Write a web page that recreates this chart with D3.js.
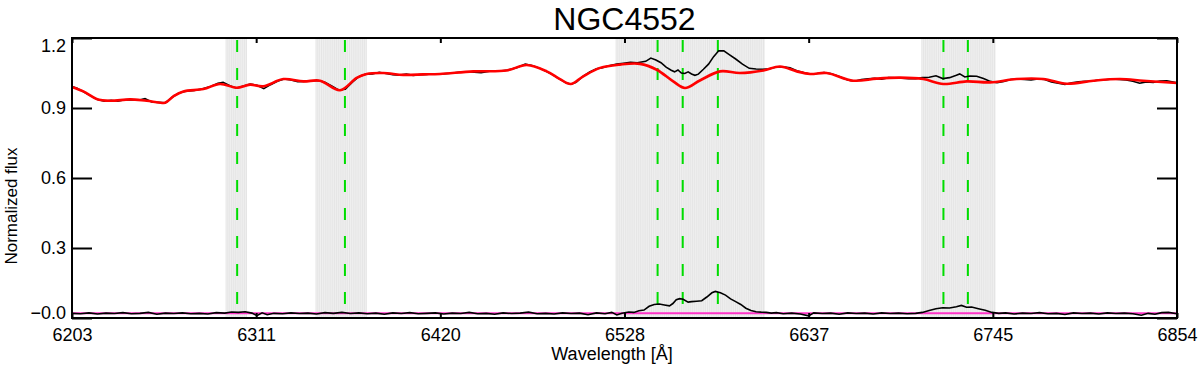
<!DOCTYPE html>
<html>
<head>
<meta charset="utf-8">
<script src="https://cdn.jsdelivr.net/npm/d3@7"></script>
<style>
  body { margin: 0; background: #fff; }
  text { font-family: "Liberation Sans", Arial, sans-serif; }
</style>
</head>
<body>
<div id="chart"></div>
<script>
// wavelength ticks (Angstrom) and their labels
var xTicks = [6203, 6311.5, 6420, 6528.5, 6637, 6745.5, 6854];
var xTickLabels = ["6203", "6311", "6420", "6528", "6637", "6745", "6854"];
var yTicks = [0, 0.3, 0.6, 0.9, 1.2];
var yTickLabels = ["\u22120.0", "0.3", "0.6", "0.9", "1.2"];

// masked regions and emission line positions
var maskRegions = [[6293.7, 6306.1], [6346.7, 6376.6], [6523.5, 6611.3], [6703.6, 6747.2]];
var lineWaves = [6300.3, 6363.8, 6548.0, 6562.8, 6583.5, 6716.4, 6730.8];

// best-fit model (red)
var modelWave = [6203, 6209.7, 6217.5, 6225.4, 6237.2, 6247, 6257.8, 6262.7, 6268.6, 6280.4,
  6290.2, 6300, 6307.9, 6315.7, 6327.5, 6339.3, 6349.1, 6360.9, 6370.7, 6376.6,
  6386.4, 6398.2, 6410, 6419.8, 6439.4, 6459.1, 6470.9, 6482.7, 6490.5, 6496.8,
  6504.2, 6514.1, 6525.8, 6537.6, 6547.5, 6557.2, 6564.1, 6572.9, 6584.8, 6596.5,
  6610.3, 6620.1, 6630, 6637.8, 6647.6, 6663.3, 6677.1, 6690.8, 6704.5, 6716.3,
  6730.1, 6743.8, 6759.5, 6775.2, 6789, 6804.7, 6820.4, 6834.1, 6854];
var modelFlux = [0.990, 0.971, 0.939, 0.931, 0.937, 0.931, 0.923, 0.950, 0.971, 0.981,
  1.003, 0.987, 1.000, 0.993, 1.024, 1.014, 1.017, 0.976, 1.029, 1.046,
  1.050, 1.042, 1.044, 1.046, 1.057, 1.061, 1.084, 1.057, 1.024, 1.003,
  1.036, 1.072, 1.086, 1.089, 1.064, 1.014, 0.986, 1.018, 1.057, 1.050,
  1.061, 1.078, 1.057, 1.046, 1.050, 1.017, 1.026, 1.030, 1.024, 1.003,
  1.014, 1.010, 1.024, 1.024, 1.004, 1.017, 1.024, 1.017, 1.007];

// observed spectrum (black)
var obsWave = [6203, 6206, 6210, 6214, 6218, 6222, 6226, 6230, 6234, 6238, 6242, 6246, 6250, 6254, 6258,
  6262, 6266, 6270, 6275, 6280, 6285, 6289, 6292, 6296, 6300, 6304, 6308, 6312, 6316, 6320,
  6324, 6328, 6332, 6336, 6340, 6344, 6348, 6352, 6356, 6360, 6364, 6368, 6372, 6376, 6380,
  6384, 6388, 6392, 6396, 6400, 6404, 6408, 6412, 6416, 6420, 6426, 6432, 6438, 6444, 6450,
  6455, 6460, 6465, 6470, 6474, 6478, 6482, 6486, 6490, 6494, 6497, 6500, 6504, 6508, 6512,
  6515, 6520, 6524, 6528, 6532, 6536, 6541, 6544, 6547, 6550, 6553, 6556, 6558, 6560, 6562,
  6564, 6566, 6568, 6570, 6572, 6575, 6578, 6581, 6584, 6587, 6590, 6594, 6598, 6602, 6606,
  6610, 6614, 6618, 6622, 6626, 6630, 6634, 6638, 6642, 6646, 6650, 6655, 6660, 6664, 6668,
  6672, 6676, 6680, 6684, 6688, 6692, 6696, 6700, 6704, 6708, 6712, 6716, 6720, 6724, 6726,
  6729, 6732, 6736, 6740, 6744, 6748, 6752, 6756, 6760, 6764, 6768, 6772, 6776, 6780, 6784,
  6788, 6792, 6796, 6800, 6804, 6808, 6812, 6816, 6820, 6824, 6828, 6832, 6836, 6840, 6844,
  6848, 6854];
var obsFlux = [0.992, 0.985, 0.968, 0.952, 0.936, 0.929, 0.933, 0.929, 0.935, 0.936, 0.933, 0.940, 0.926, 0.924, 0.922,
  0.946, 0.964, 0.972, 0.975, 0.982, 0.993, 1.006, 1.010, 0.995, 0.985, 0.994, 1.003, 0.997, 0.983, 1.000,
  1.015, 1.024, 1.020, 1.013, 1.014, 1.017, 1.018, 1.010, 0.995, 0.977, 0.980, 1.010, 1.034, 1.045, 1.046,
  1.053, 1.048, 1.043, 1.041, 1.045, 1.040, 1.043, 1.044, 1.047, 1.045, 1.049, 1.054, 1.055, 1.051, 1.059,
  1.058, 1.063, 1.073, 1.088, 1.082, 1.072, 1.058, 1.043, 1.025, 1.008, 1.002, 1.010, 1.035, 1.055, 1.068,
  1.072, 1.082, 1.088, 1.092, 1.096, 1.094, 1.100, 1.114, 1.106, 1.094, 1.075, 1.062, 1.055, 1.063, 1.050,
  1.048, 1.055, 1.046, 1.040, 1.045, 1.066, 1.088, 1.120, 1.145, 1.145, 1.130, 1.110, 1.088, 1.070, 1.067,
  1.066, 1.068, 1.076, 1.077, 1.072, 1.060, 1.052, 1.045, 1.048, 1.052, 1.048, 1.035, 1.020, 1.015, 1.022,
  1.025, 1.027, 1.023, 1.030, 1.029, 1.028, 1.026, 1.026, 1.030, 1.032, 1.038, 1.026, 1.030, 1.040, 1.046,
  1.033, 1.037, 1.036, 1.026, 1.014, 1.008, 1.014, 1.022, 1.024, 1.022, 1.020, 1.024, 1.022, 1.012, 1.006,
  1.001, 1.008, 1.012, 1.014, 1.016, 1.020, 1.021, 1.024, 1.022, 1.020, 1.015, 1.006, 1.012, 1.010, 1.016,
  1.017, 1.008];

// residual / emission spectrum (black, bottom) and its zero level (magenta)
var emisWave = [6203, 6208, 6213, 6218, 6223, 6228, 6233, 6238, 6243, 6248, 6253, 6258, 6263, 6268, 6273,
  6278, 6283, 6288, 6293, 6297, 6301, 6305, 6309, 6312, 6315, 6318, 6322, 6327, 6332, 6337,
  6342, 6347, 6352, 6357, 6362, 6367, 6372, 6377, 6382, 6387, 6392, 6397, 6402, 6407, 6412,
  6417, 6422, 6427, 6432, 6437, 6442, 6447, 6452, 6457, 6462, 6467, 6472, 6477, 6482, 6487,
  6492, 6497, 6502, 6507, 6512, 6517, 6521, 6524, 6527, 6531, 6534, 6537, 6540, 6543, 6546,
  6549, 6552, 6555, 6557, 6559, 6561, 6563, 6566, 6568, 6571, 6574, 6577, 6580, 6582, 6585,
  6588, 6591, 6594, 6597, 6600, 6603, 6606, 6609, 6612, 6615, 6618, 6622, 6627, 6632, 6637,
  6640, 6645, 6650, 6655, 6660, 6665, 6670, 6675, 6680, 6685, 6690, 6695, 6700, 6704, 6708,
  6712, 6716, 6720, 6724, 6727, 6730, 6733, 6737, 6741, 6745, 6749, 6753, 6758, 6763, 6768,
  6773, 6778, 6783, 6788, 6793, 6798, 6803, 6808, 6813, 6818, 6823, 6828, 6833, 6837, 6841,
  6845, 6849, 6854];
var emisFlux = [0.020, 0.018, 0.022, 0.017, 0.021, 0.019, 0.023, 0.018, 0.020, 0.024, 0.016, 0.021, 0.019, 0.022, 0.018,
  0.020, 0.017, 0.023, 0.021, 0.026, 0.024, 0.027, 0.021, 0.010, 0.022, 0.014, 0.020, 0.018, 0.022, 0.019,
  0.021, 0.017, 0.023, 0.020, 0.024, 0.019, 0.022, 0.018, 0.021, 0.016, 0.022, 0.019, 0.023, 0.018, 0.020,
  0.022, 0.017, 0.021, 0.019, 0.024, 0.018, 0.020, 0.016, 0.022, 0.019, 0.021, 0.025, 0.018, 0.020, 0.017,
  0.022, 0.019, 0.021, 0.014, 0.022, 0.018, 0.024, 0.013, 0.020, 0.026, 0.024, 0.031, 0.034, 0.050, 0.058,
  0.060, 0.056, 0.052, 0.062, 0.078, 0.083, 0.080, 0.068, 0.070, 0.072, 0.074, 0.090, 0.108, 0.114, 0.108,
  0.098, 0.082, 0.070, 0.058, 0.042, 0.032, 0.027, 0.025, 0.024, 0.021, 0.023, 0.018, 0.021, 0.017, 0.009,
  0.022, 0.019, 0.021, 0.016, 0.022, 0.019, 0.021, 0.017, 0.022, 0.019, 0.021, 0.018, 0.020, 0.024, 0.032,
  0.040, 0.044, 0.043, 0.048, 0.054, 0.046, 0.047, 0.040, 0.033, 0.024, 0.020, 0.022, 0.017, 0.021, 0.019,
  0.023, 0.018, 0.020, 0.015, 0.022, 0.019, 0.021, 0.017, 0.022, 0.019, 0.021, 0.018, 0.012, 0.020, 0.016,
  0.023, 0.024, 0.018];
var zeroLevel = 0.02;

var width = 1200, height = 367;
var margin = {top: 38, right: 23, bottom: 49, left: 72};

var svg = d3.select("#chart").append("svg")
  .attr("width", width)
  .attr("height", height);

var x = d3.scaleLinear().domain([6203, 6854]).range([margin.left, width - margin.right]);
var y = d3.scaleLinear().domain([0, 1.2]).range([height - margin.bottom, margin.top]);

// masked regions: light gray band made of thin vertical lines
var masks = svg.append("g");
maskRegions.forEach(function(r) {
  masks.append("rect")
    .attr("x", x(r[0]))
    .attr("y", y(1.2))
    .attr("width", x(r[1]) - x(r[0]))
    .attr("height", y(0) - y(1.2))
    .style("fill", "#f1f1f1");
  masks.selectAll(null)
    .data(d3.range(r[0], r[1], 1.1))
    .enter().append("line")
      .attr("x1", function(d) { return x(d); })
      .attr("x2", function(d) { return x(d); })
      .attr("y1", y(1.2))
      .attr("y2", y(0))
      .style("stroke", "#dedede")
      .style("stroke-width", 0.6);
});

// emission line markers
svg.append("g").selectAll("line")
  .data(lineWaves)
  .enter().append("line")
    .attr("x1", function(d) { return x(d); })
    .attr("x2", function(d) { return x(d); })
    .attr("y1", y(1.2))
    .attr("y2", y(0))
    .style("stroke", "#00dd00")
    .style("stroke-width", 2)
    .style("stroke-dasharray", "12,16")
    .style("stroke-dashoffset", -2);

function pairs(w, f) {
  return w.map(function(d, i) { return [d, f[i]]; });
}

// zero level
svg.append("line")
  .attr("x1", x(6203)).attr("x2", x(6854))
  .attr("y1", y(zeroLevel)).attr("y2", y(zeroLevel))
  .style("stroke", "#ff33c8")
  .style("stroke-width", 2);

var lineLin = d3.line()
  .x(function(d) { return x(d[0]); })
  .y(function(d) { return y(d[1]); });

var lineSmooth = d3.line()
  .curve(d3.curveCatmullRom)
  .x(function(d) { return x(d[0]); })
  .y(function(d) { return y(d[1]); });

svg.append("path")
  .attr("d", lineLin(pairs(emisWave, emisFlux)))
  .style("fill", "none")
  .style("stroke", "#000")
  .style("stroke-width", 1.6);

svg.append("path")
  .attr("d", lineLin(pairs(obsWave, obsFlux)))
  .style("fill", "none")
  .style("stroke", "#000")
  .style("stroke-width", 1.6);

svg.append("path")
  .attr("d", lineSmooth(pairs(modelWave, modelFlux)))
  .style("fill", "none")
  .style("stroke", "#ff0000")
  .style("stroke-width", 2.6);

// axes
var xBottom = d3.axisBottom(x)
  .tickValues(xTicks)
  .tickFormat(function(d, i) { return xTickLabels[i]; })
  .tickSizeInner(-5).tickSizeOuter(0).tickPadding(10);

var gx = svg.append("g")
  .attr("transform", "translate(0," + y(0) + ")")
  .call(xBottom);

svg.append("g")
  .attr("transform", "translate(0," + y(1.2) + ")")
  .call(d3.axisTop(x).tickValues(xTicks).tickFormat("").tickSizeInner(-5).tickSizeOuter(0));

var yLeft = d3.axisLeft(y)
  .tickValues(yTicks)
  .tickFormat(function(d, i) { return yTickLabels[i]; })
  .tickSizeInner(-20).tickSizeOuter(0).tickPadding(6);

var gy = svg.append("g")
  .attr("transform", "translate(" + x(6203) + ",0)")
  .call(yLeft);

svg.append("g")
  .attr("transform", "translate(" + x(6854) + ",0)")
  .call(d3.axisRight(y).tickValues(yTicks).tickFormat("").tickSizeInner(-20).tickSizeOuter(0));

svg.selectAll(".domain").remove();
svg.selectAll(".tick line").style("stroke", "#000").style("stroke-width", 2);
svg.selectAll(".tick text").style("font-size", "18px").style("fill", "#000");

// end labels sit inside the frame, as in the original
gy.selectAll(".tick text")
  .attr("dy", function(d) { return d === 1.2 ? "0.75em" : d === 0 ? "0.05em" : "0.32em"; });

// frame
svg.append("rect")
  .attr("x", x(6203)).attr("y", y(1.2))
  .attr("width", x(6854) - x(6203))
  .attr("height", y(0) - y(1.2))
  .style("fill", "none")
  .style("stroke", "#000")
  .style("stroke-width", 2);

// titles
svg.append("text")
  .attr("x", (x(6203) + x(6854)) / 2)
  .attr("y", 30)
  .attr("text-anchor", "middle")
  .style("font-size", "32px")
  .text("NGC4552");

svg.append("text")
  .attr("x", 612)
  .attr("y", 360)
  .attr("text-anchor", "middle")
  .style("font-size", "18px")
  .text("Wavelength [\u00c5]");

svg.append("text")
  .attr("transform", "translate(17,206) rotate(-90)")
  .attr("text-anchor", "middle")
  .style("font-size", "17px")
  .text("Normalized flux");
</script>
</body>
</html>
